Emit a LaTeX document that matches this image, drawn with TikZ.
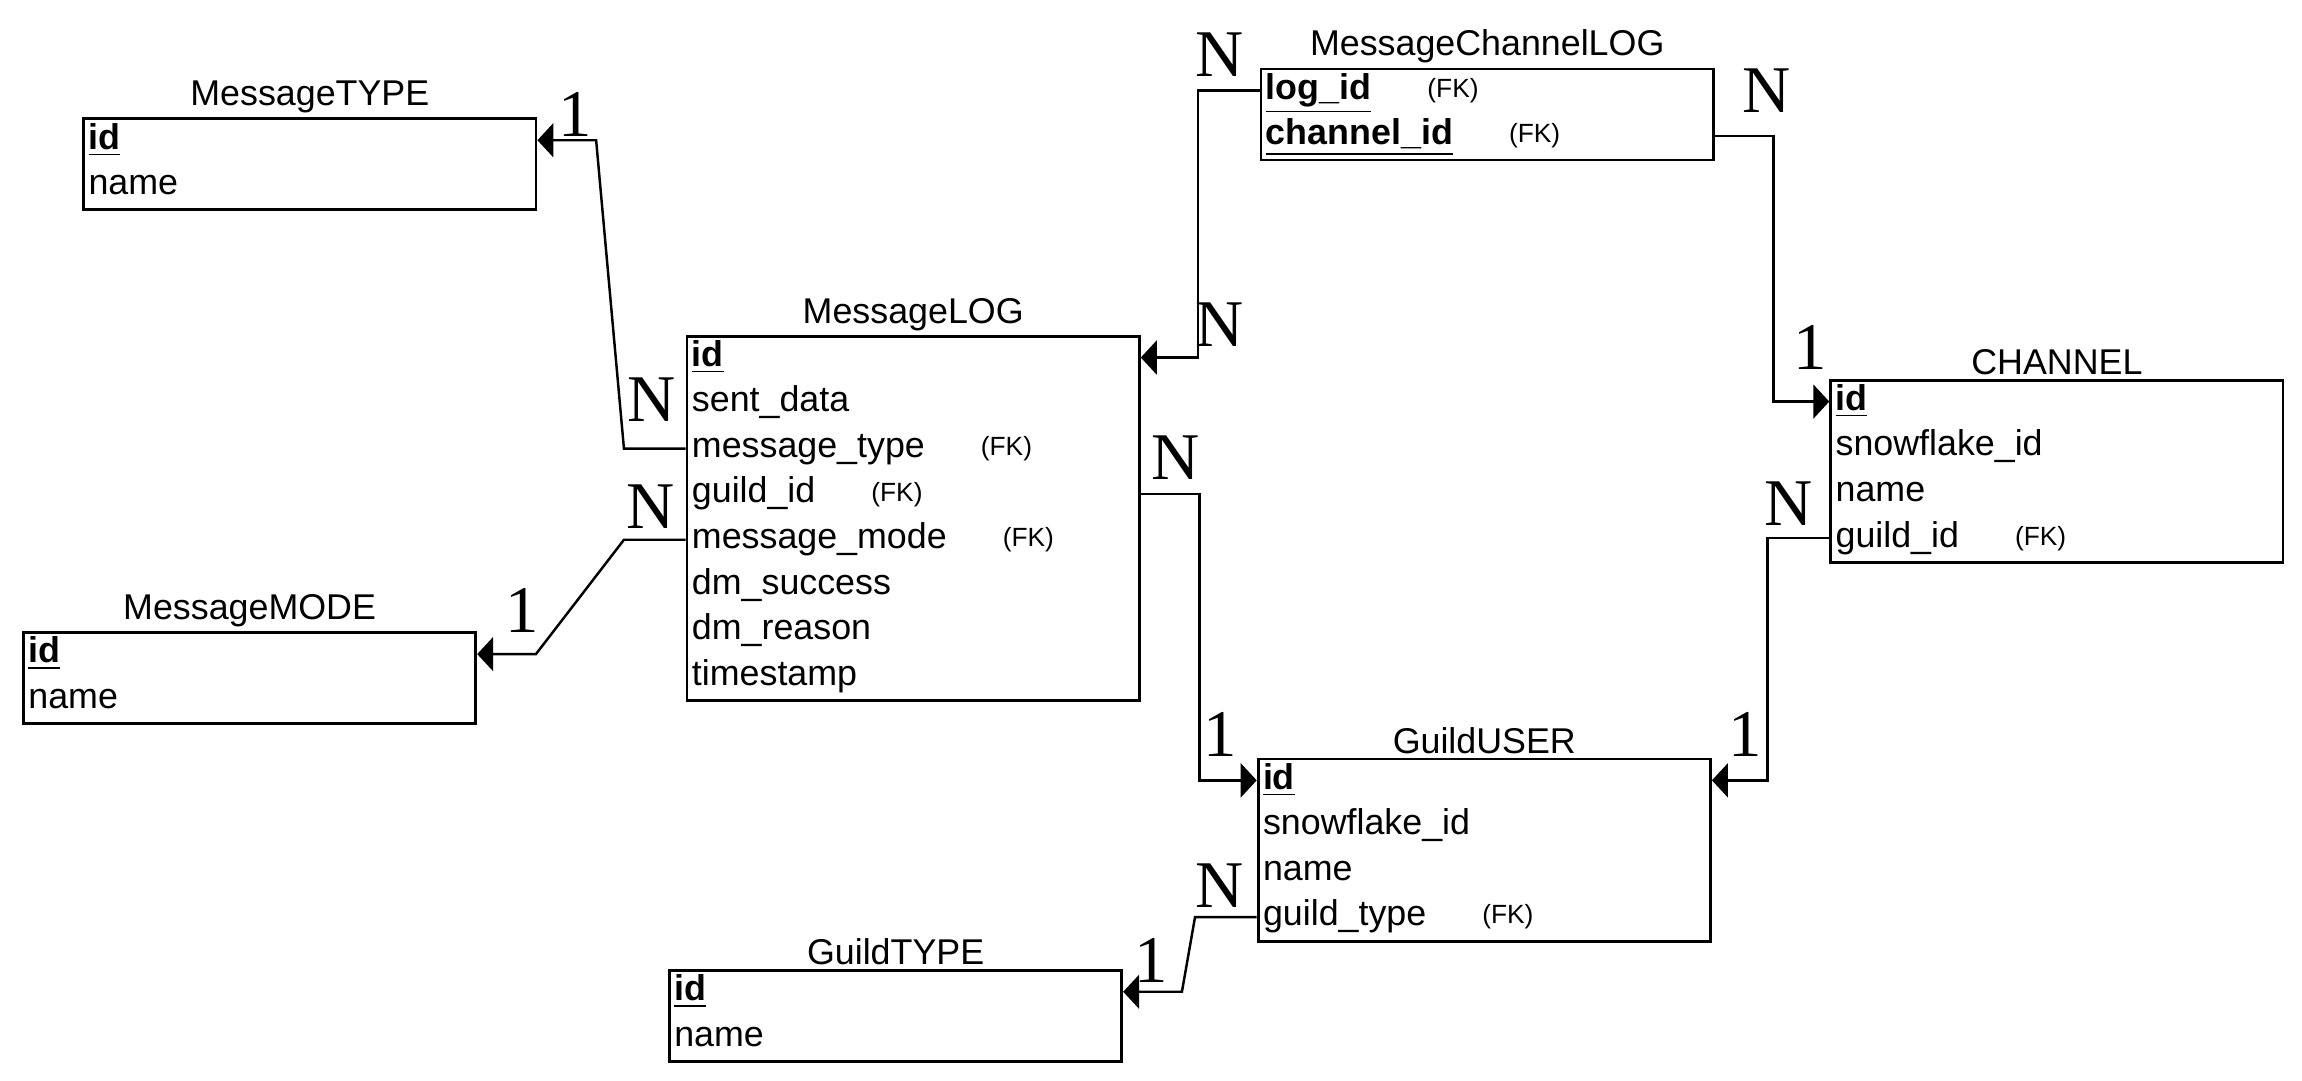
\documentclass[tikz,border=0pt]{standalone}
\usepackage{fontspec}
\setmainfont{Liberation Sans}
\newfontfamily\cardfont{Liberation Serif}
\usetikzlibrary{positioning, calc, arrows.meta}

\begin{document}
\begin{tikzpicture}[x=0.0147cm, y=-0.0147cm,
    tbl/.style={draw, line width=0.8pt, anchor=north west, minimum width=4.528cm, inner sep=0pt},
    title/.style={font=\fontsize{10.2}{12}\selectfont, inner sep=1pt},
    row/.style={anchor=west, inner xsep=1.6pt, inner ysep=0pt, text height=7.6pt, text depth=2.6pt, font=\fontsize{10.2}{12}\selectfont},
    fk/.style={font=\fontsize{7.5}{9}\selectfont, inner sep=0pt},
    card/.style={font=\cardfont\fontsize{19}{20}\selectfont, inner sep=0pt},
    conn/.style={line width=0.7pt, -{Triangle[length=0.16cm, width=0.34cm]}},
    node distance=0.49cm]
      \useasboundingbox (0,0) rectangle (1568,736);
      % MessageTYPE
      \node[tbl, minimum height=0.911cm] (type) at (56,80) {};
      \node[title, above=0pt of type] (type-title) {MessageTYPE};
      \node[row] (type-id) at ([yshift=-0.228cm]type.north west) {\underline{\textbf{id}}};
      \node[row] (type-name) at ([yshift=-0.456cm]type-id.west) {name};
      % MessageMODE
      \node[tbl, minimum height=0.911cm] (mode) at (15,430) {};
      \node[title, above=0pt of mode] (mode-title) {MessageMODE};
      \node[row] (mode-id) at ([yshift=-0.228cm]mode.north west) {\underline{\textbf{id}}};
      \node[row] (mode-name) at ([yshift=-0.456cm]mode-id.west) {name};
      % MessageLOG
      \node[tbl, minimum height=3.646cm] (log) at (467,228) {};
      \node[title, above=0pt of log] (log-title) {MessageLOG};
      \node[row] (log-id) at ([yshift=-0.228cm]log.north west) {\underline{\textbf{id}}};
      \node[row] (log-sent) at ([yshift=-0.456cm]log-id.west) {sent\_data};
      \node[row] (log-type) at ([yshift=-0.456cm]log-sent.west) {message\_type};
      \node[row] (log-guild) at ([yshift=-0.456cm]log-type.west) {guild\_id};
      \node[row] (log-mode) at ([yshift=-0.456cm]log-guild.west) {message\_mode};
      \node[row] (log-success) at ([yshift=-0.456cm]log-mode.west) {dm\_success};
      \node[row] (log-reason) at ([yshift=-0.456cm]log-success.west) {dm\_reason};
      \node[row] (log-time) at ([yshift=-0.456cm]log-reason.west) {timestamp};
      \node[fk, right=of log-type] (log-type-fk) {(FK)};
      \node[fk, right=of log-guild] (log-guild-fk) {(FK)};
      \node[fk, right=of log-mode] (log-mode-fk) {(FK)};
      % MessageChannelLOG
      \node[tbl, minimum height=0.911cm] (chlog) at (858,46) {};
      \node[title, above=0pt of chlog] (chlog-title) {MessageChannelLOG};
      \node[row] (chlog-log) at ([yshift=-0.228cm]chlog.north west) {\underline{\textbf{log\_id}}};
      \node[row] (chlog-ch) at ([yshift=-0.456cm]chlog-log.west) {\underline{\textbf{channel\_id}}};
      \node[fk, right=of chlog-log] (chlog-log-fk) {(FK)};
      \node[fk, right=of chlog-ch] (chlog-ch-fk) {(FK)};
      % CHANNEL
      \node[tbl, minimum height=1.823cm] (chan) at (1246,258) {};
      \node[title, above=0pt of chan] (chan-title) {CHANNEL};
      \node[row] (chan-id) at ([yshift=-0.228cm]chan.north west) {\underline{\textbf{id}}};
      \node[row] (chan-snow) at ([yshift=-0.456cm]chan-id.west) {snowflake\_id};
      \node[row] (chan-name) at ([yshift=-0.456cm]chan-snow.west) {name};
      \node[row] (chan-guild) at ([yshift=-0.456cm]chan-name.west) {guild\_id};
      \node[fk, right=of chan-guild] (chan-guild-fk) {(FK)};
      % GuildUSER
      \node[tbl, minimum height=1.823cm] (guser) at (856,516) {};
      \node[title, above=0pt of guser] (guser-title) {GuildUSER};
      \node[row] (guser-id) at ([yshift=-0.228cm]guser.north west) {\underline{\textbf{id}}};
      \node[row] (guser-snow) at ([yshift=-0.456cm]guser-id.west) {snowflake\_id};
      \node[row] (guser-name) at ([yshift=-0.456cm]guser-snow.west) {name};
      \node[row] (guser-type) at ([yshift=-0.456cm]guser-name.west) {guild\_type};
      \node[fk, right=of guser-type] (guser-type-fk) {(FK)};
      % GuildTYPE
      \node[tbl, minimum height=0.911cm] (gtype) at (455,660) {};
      \node[title, above=0pt of gtype] (gtype-title) {GuildTYPE};
      \node[row] (gtype-id) at ([yshift=-0.228cm]gtype.north west) {\underline{\textbf{id}}};
      \node[row] (gtype-name) at ([yshift=-0.456cm]gtype-id.west) {name};
      % relations
      \draw[conn] (log-type.west) -- ++(-42,0) -- ($(type-id.west -| type.east)+(40,0)$) -- (type-id.west -| type.east);
      \draw[conn] (log-mode.west) -- ++(-42,0) -- ($(mode-id.west -| mode.east)+(40,0)$) -- (mode-id.west -| mode.east);
      \draw[conn] (chlog-log.west) -- ++(-42,0) |- (log-id.west -| log.east);
      \draw[conn] (chlog-ch.west -| chlog.east) -- ++(40,0) |- (chan-id.west);
      \draw[conn] (log-guild.west -| log.east) -- ++(40,0) |- (guser-id.west);
      \draw[conn] (chan-guild.west) -- ++(-42,0) |- (guser-id.west -| guser.east);
      \draw[conn] (guser-type.west) -- ++(-42,0) -- ($(gtype-id.west -| gtype.east)+(40,0)$) -- (gtype-id.west -| gtype.east);
      % cardinalities
      \node[card] (c-type-1) at (392,78) {1};
      \node[card] (c-type-n) at (444,272) {N};
      \node[card] (c-mode-n) at (443,345) {N};
      \node[card] (c-mode-1) at (356,416) {1};
      \node[card] (c-chlog-n) at (831,37) {N};
      \node[card] (c-log-n) at (831,221) {N};
      \node[card] (c-chlog-n2) at (1203,62) {N};
      \node[card] (c-chan-1) at (1233,237) {1};
      \node[card] (c-guild-n) at (801,312) {N};
      \node[card] (c-guser-1) at (831,500) {1};
      \node[card] (c-chan-n) at (1218,343) {N};
      \node[card] (c-guser-1b) at (1189,500) {1};
      \node[card] (c-gtype-n) at (831,603) {N};
      \node[card] (c-gtype-1) at (784,654) {1};
    \end{tikzpicture}
\end{document}
